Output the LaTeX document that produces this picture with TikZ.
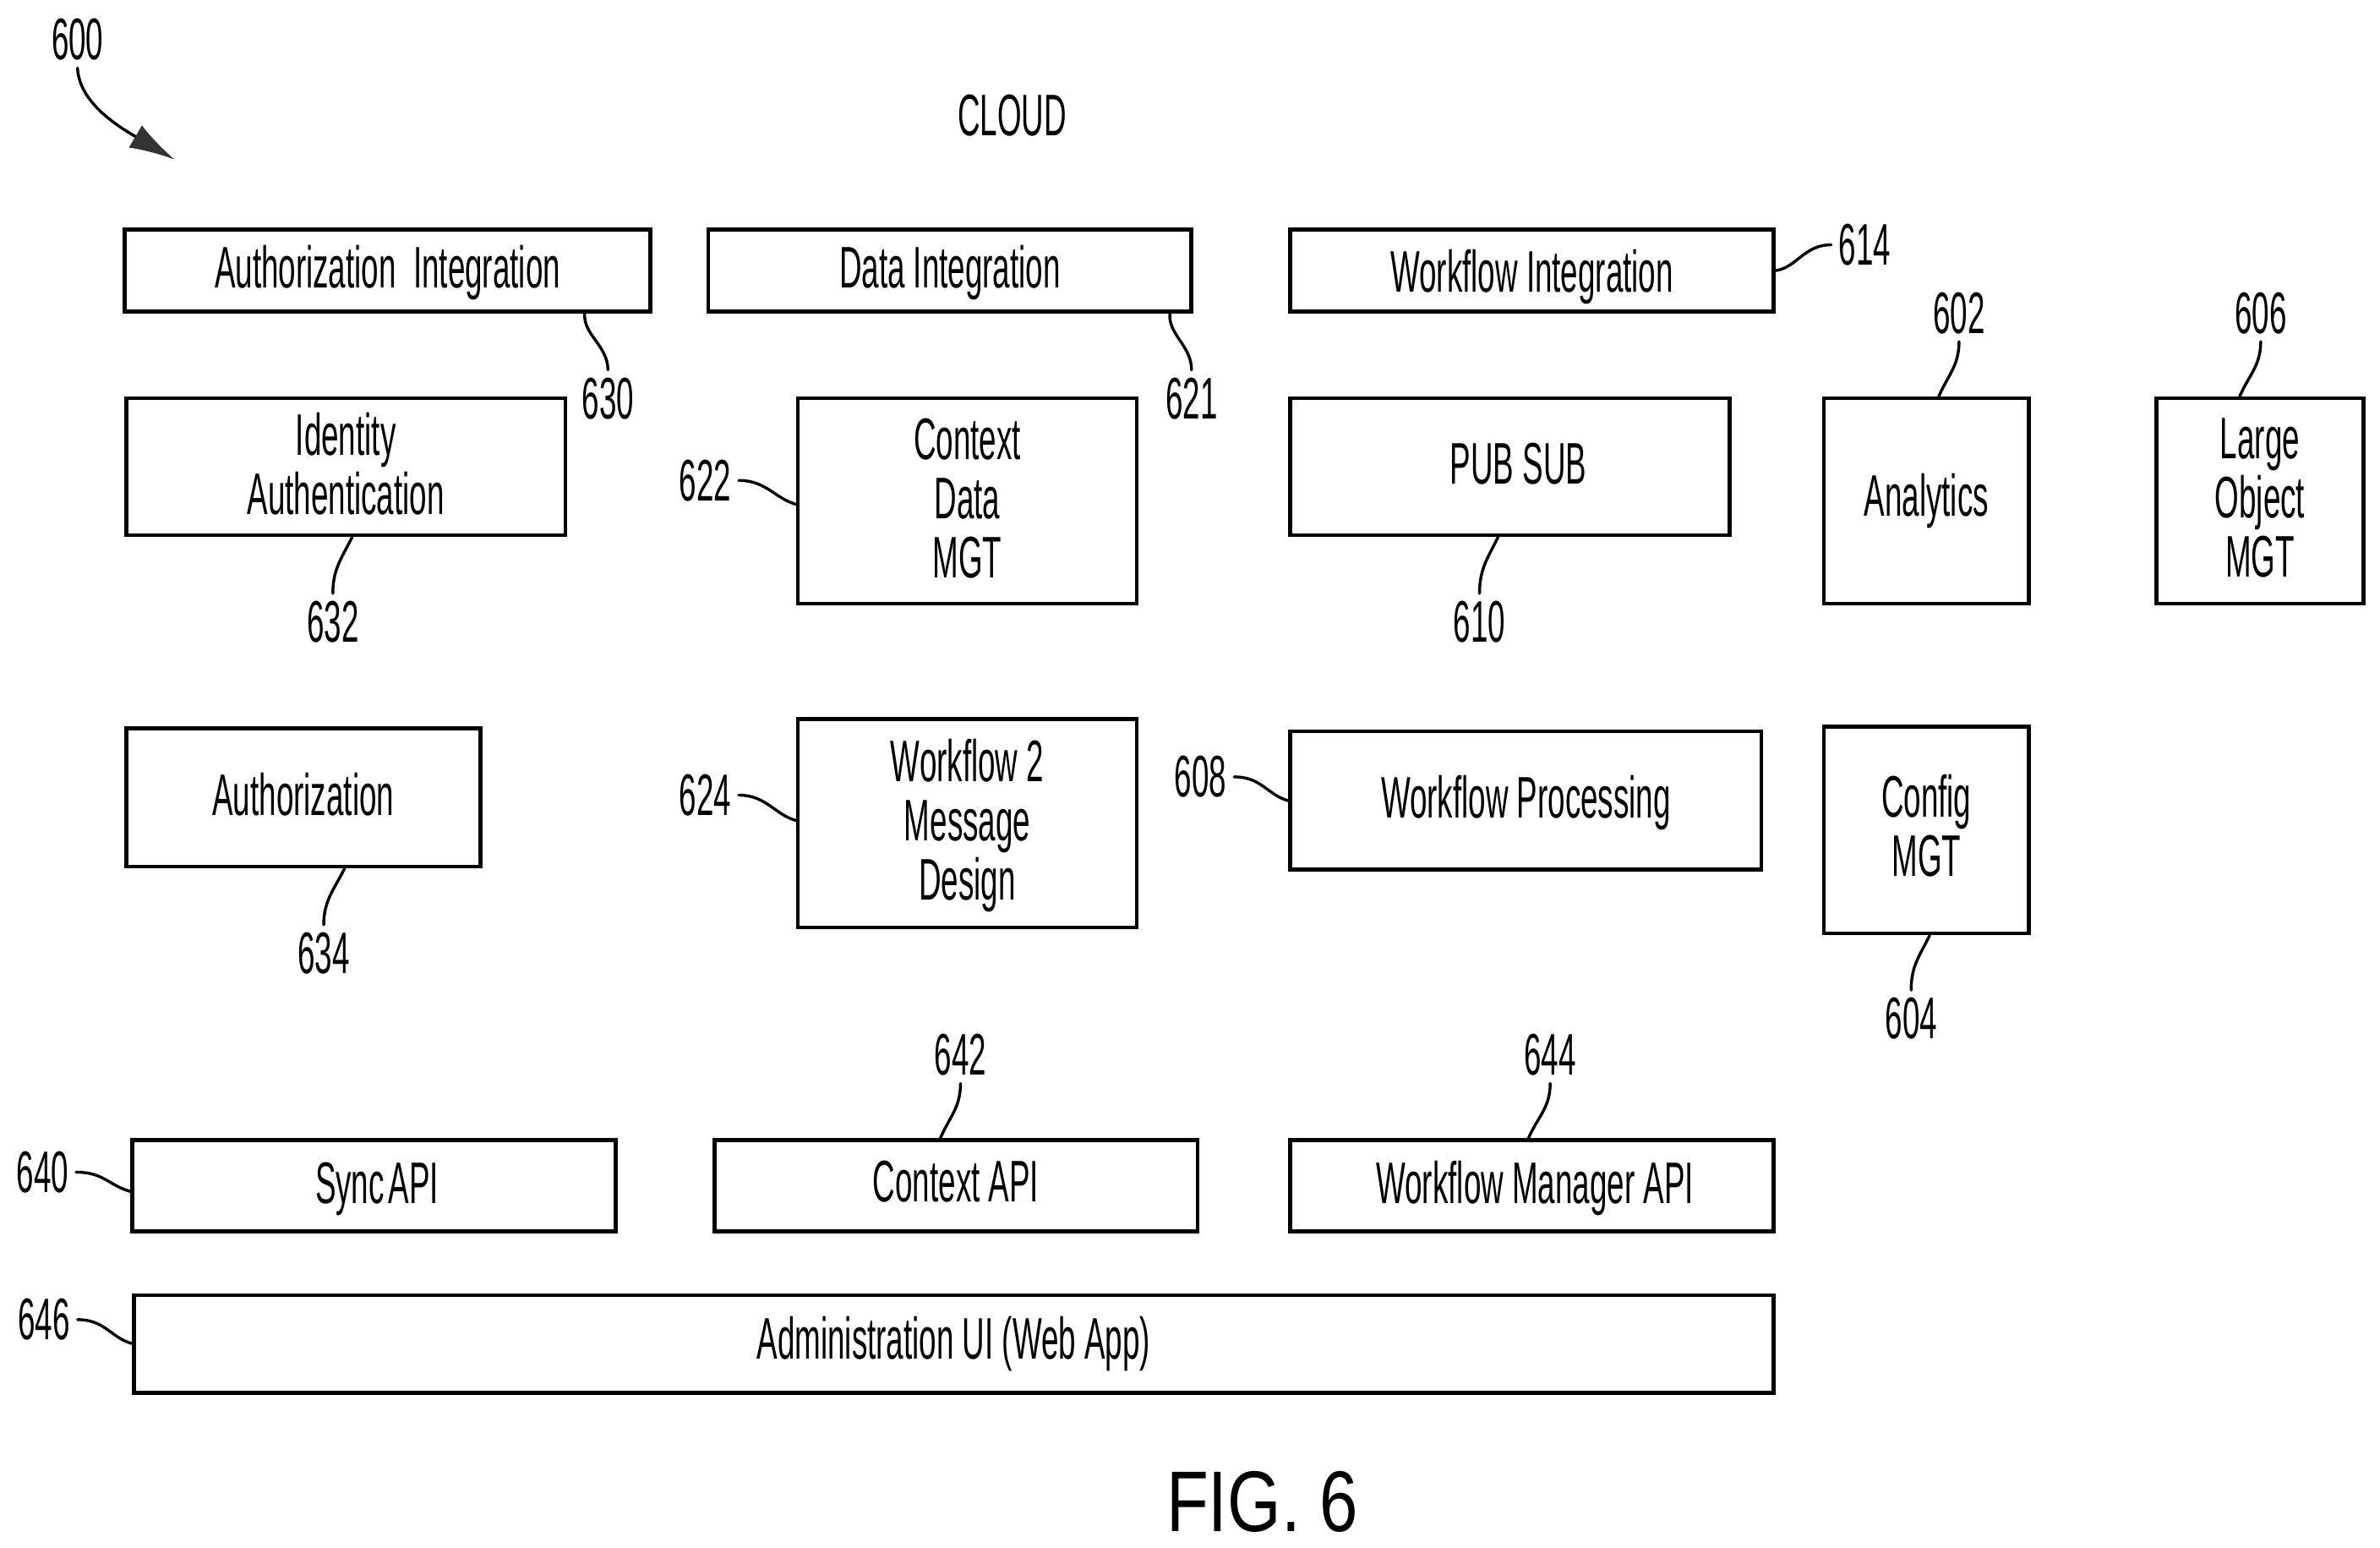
\documentclass[tikz,border=0pt]{standalone}
\usepackage{fontspec}
\usetikzlibrary{calc,arrows.meta}
\newfontfamily\condf[FakeStretch=0.53]{Liberation Sans}
\newfontfamily\figf[FakeStretch=0.8]{Liberation Sans}
\tikzset{
  box/.style={draw=black,line width=2.6pt,rectangle,inner sep=0pt,align=center,
    font=\condf\fontsize{38.6}{39}\selectfont,text=black},
  num/.style={inner sep=0pt,outer sep=5pt,font=\condf\fontsize{38.6}{39}\selectfont,text=black},
  lead/.style={line width=1.9pt,draw=black,line cap=round},
}
\newcommand{\bx}[6]{\node[box,minimum width=#4 pt-#2 pt,minimum height=#5 pt-#3 pt] (#1) at ({(#2+#4)/2},{(#3+#5)/2}) {#6};}
\newcommand{\tup}[1]{\rule[-#1pt]{0pt}{#1pt}}
\newcommand{\tdn}[1]{\rule{0pt}{#1pt}}
\begin{document}
\begin{tikzpicture}[x=1pt,y=-1pt]
\useasboundingbox (0,0) rectangle (1566,1018.2);
% boxes
\bx{ai}{82}{151}{428}{205}{\tdn{31}Authorization\ \ Integration}
\bx{di}{466}{151}{784}{205}{\tdn{31}Data Integration}
\bx{wi}{849}{151}{1167}{205}{\tdn{36}Workflow Integration}
\bx{ia}{83}{262}{372}{352}{Identity\\Authentication\tup{4}}
\bx{cd}{525}{262}{748}{397}{Context\\Data\\MGT\tup{4}}
\bx{ps}{849}{262}{1138}{352}{\hspace{11pt}PUB SUB\tup{4}}
\bx{an}{1200}{262}{1335}{397}{Analytics}
\bx{lo}{1419}{262}{1555}{397}{Large\\Object\\MGT\tup{4}}
\bx{au}{83}{479}{316}{570}{Authorization\tup{4}}
\bx{wm}{525}{473}{748}{610}{\tdn{31}Workflow 2\\Message\\Design}
\bx{wp}{849}{481}{1159}{572}{\tdn{31}Workflow Processing}
\bx{cm}{1200}{478}{1335}{614}{Config\\MGT\tup{6}}
\bx{sa}{87}{750}{405}{810}{\hspace{4pt}Sync\hspace{-3pt} API\tdn{31}}
\bx{ca}{470}{750}{788}{810}{Context API\tup{6}}
\bx{ma}{849}{750}{1167}{810}{\hspace{4pt}Workflow Manager API\tdn{31}}
\bx{ad}{88}{852}{1167}{916}{Administration UI (Web App)}
% titles
\node[num] (cloud) at (666,76) {CLOUD};
\node[inner sep=0pt,font=\figf\fontsize{56.7}{57}\selectfont,text=black] (fig) at (830.5,988) {FIG. 6};
% labels
\node[num] (l600) at (51,26) {600};
\node[num] (l614) at (1227,161) {614};
\node[num] (l602) at (1289,206) {602};
\node[num] (l606) at (1487.5,206) {606};
\node[num] (l630) at (400,262) {630};
\node[num] (l621) at (784,262) {621};
\node[num] (l622) at (464,316) {622};
\node[num] (l632) at (219,409) {632};
\node[num] (l610) at (973.5,409) {610};
\node[num] (l624) at (464,523) {624};
\node[num] (l634) at (213,627) {634};
\node[num] (l608) at (790,511) {608};
\node[num] (l604) at (1257.5,670) {604};
\node[num] (l642) at (632,694) {642};
\node[num] (l644) at (1020,694) {644};
\node[num] (l640) at (28,771) {640};
\node[num] (l646) at (29,868) {646};
% reference arrow
\coordinate (tip600) at (115,105);
\draw[lead,-{Latex[length=30pt,width=17pt,color=black!80]}] (l600.south) .. controls +(1,24) and +(-34,-20) .. (tip600);
% leaders
\draw[lead] (l614.west) .. controls +(-18,0) and +(14,-2) .. (wi.east);
\draw[lead] (l602.south) .. controls +(0,16) and +(6,-14) .. ($(an.north west)+(77,0)$);
\draw[lead] (l606.south) .. controls +(0,16) and +(6,-14) .. ($(lo.north west)+(56,0)$);
\draw[lead] (l630.north) .. controls +(0,-16) and +(-1,14) .. ($(ai.south west)+(304,0)$);
\draw[lead] (l621.north) .. controls +(0,-16) and +(-1,14) .. ($(di.south west)+(305,0)$);
\draw[lead] (l622.east) .. controls +(18,0) and +(-14,-4) .. ($(cd.north west)+(0,71)$);
\draw[lead] (l632.north) .. controls +(0,-16) and +(-7,14) .. ($(ia.south west)+(150,0)$);
\draw[lead] (l610.north) .. controls +(0,-16) and +(-7,14) .. ($(ps.south west)+(138,0)$);
\draw[lead] (l624.east) .. controls +(18,0) and +(-14,-4) .. ($(wm.north west)+(0,68)$);
\draw[lead] (l634.north) .. controls +(0,-16) and +(-7,14) .. ($(au.south west)+(145,0)$);
\draw[lead] (l608.east) .. controls +(18,0) and +(-14,-4) .. ($(wp.north west)+(0,47)$);
\draw[lead] (l604.north) .. controls +(0,-16) and +(-7,14) .. ($(cm.south west)+(71,0)$);
\draw[lead] (l642.south) .. controls +(0,16) and +(6,-14) .. ($(ca.north west)+(150,0)$);
\draw[lead] (l644.south) .. controls +(0,16) and +(6,-14) .. ($(ma.north west)+(158,0)$);
\draw[lead] (l640.east) .. controls +(18,0) and +(-14,-4) .. ($(sa.north west)+(0,35)$);
\draw[lead] (l646.east) .. controls +(18,0) and +(-14,-4) .. ($(ad.north west)+(0,33)$);
\end{tikzpicture}
\end{document}
